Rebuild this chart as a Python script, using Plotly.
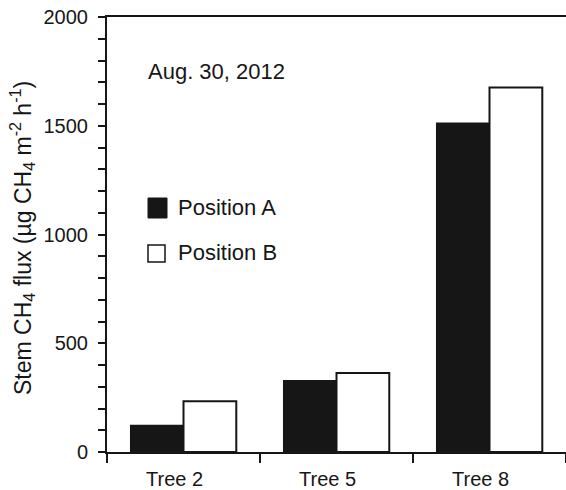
import plotly.graph_objects as go

# Stem methane flux per tree and sampling position
trees = ["Tree 2", "Tree 5", "Tree 8"]
position_a = [122, 328, 1512]
position_b = [233, 363, 1676]

y_ticks = [0, 500, 1000, 1500, 2000]

FONT = "Liberation Sans, Arial, sans-serif"
INK = "#161616"

fig = go.Figure()
fig.add_trace(go.Bar(
    x=trees, y=position_a, name="Position A",
    marker=dict(color=INK, line=dict(color=INK, width=1.5)),
    showlegend=False,
))
fig.add_trace(go.Bar(
    x=trees, y=position_b, name="Position B",
    marker=dict(color="white", line=dict(color=INK, width=2)),
    showlegend=False,
))

# Category labels sit slightly left of each group centre
for tree in trees:
    fig.add_annotation(text=tree, x=tree, y=0, xref="x", yref="y",
                       xanchor="center", yanchor="middle", xshift=-9, yshift=-27,
                       showarrow=False, borderpad=0,
                       font=dict(size=20, color=INK, family=FONT))

# Hand-drawn legend keys
fig.add_shape(type="rect", xref="paper", yref="paper",
              x0=(148 - 107) / 459, x1=(167 - 107) / 459,
              y0=(452 - 218) / 435, y1=(452 - 198) / 435,
              fillcolor=INK, line=dict(color=INK, width=1))
fig.add_shape(type="rect", xref="paper", yref="paper",
              x0=(148 - 107) / 459, x1=(165 - 107) / 459,
              y0=(452 - 262) / 435, y1=(452 - 245) / 435,
              fillcolor="white", line=dict(color=INK, width=1.5))
fig.add_annotation(text="Position A", xref="paper", yref="paper",
                   x=(176 - 107) / 459, y=(452 - 207) / 435,
                   xanchor="left", yanchor="middle", showarrow=False,
                   font=dict(size=22, color=INK, family=FONT))
fig.add_annotation(text="Position B", xref="paper", yref="paper",
                   x=(176 - 107) / 459, y=(452 - 252) / 435,
                   xanchor="left", yanchor="middle", showarrow=False,
                   font=dict(size=22, color=INK, family=FONT))

fig.add_annotation(text="Aug. 30, 2012", xref="paper", yref="paper",
                   x=(146 - 107) / 459, y=(452 - 71) / 435,
                   xanchor="left", yanchor="middle", showarrow=False,
                   font=dict(size=22, color=INK, family=FONT))

fig.add_annotation(
    text="Stem CH<sub>4</sub> flux (µg CH<sub>4</sub> m<sup>-2</sup> h<sup>-1</sup>)",
    xref="paper", yref="paper", x=-(107 - 22) / 459, y=(452 - 238) / 435,
    xanchor="center", yanchor="middle", textangle=-90, showarrow=False,
    font=dict(size=23, color=INK, family=FONT))

fig.update_layout(
    width=566, height=490,
    margin=dict(l=107, r=0, t=17, b=38),
    paper_bgcolor="white", plot_bgcolor="white",
    barmode="group", bargap=0.31, bargroupgap=0,
    font=dict(family=FONT, size=20, color=INK),
)
fig.update_xaxes(
    showline=True, linecolor=INK, linewidth=2, mirror=True,
    ticks="outside", ticklen=9, tickwidth=1.5, tickcolor=INK,
    tickson="boundaries", showgrid=False, showticklabels=False,
)
fig.update_yaxes(
    range=[0, 2000], tickvals=y_ticks,
    showline=True, linecolor=INK, linewidth=2,
    ticks="outside", ticklen=7, tickwidth=1.5, tickcolor=INK,
    minor=dict(dtick=100, ticks="outside", ticklen=7, tickwidth=1.5, tickcolor=INK),
    showgrid=False, zeroline=False, ticklabelstandoff=6,
    tickfont=dict(size=20, family=FONT, color=INK),
)

fig.write_html("out.html")
